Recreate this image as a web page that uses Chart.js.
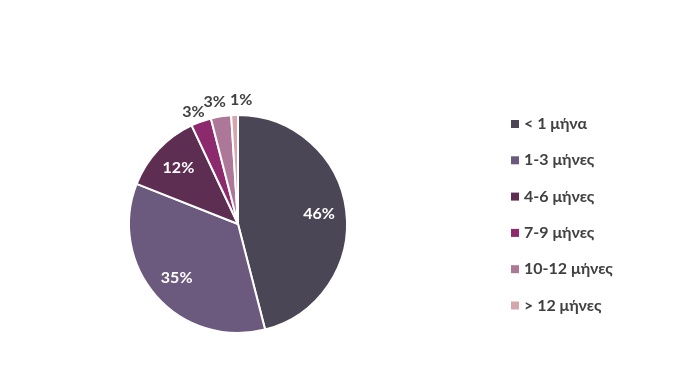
<!DOCTYPE html>
<html>
<head>
<meta charset="utf-8">
<script src="https://cdn.jsdelivr.net/npm/chart.js@4"></script>
<style>
  html, body { margin: 0; padding: 0; background: #fff; }
  #wrap { width: 684px; height: 388px; }
</style>
</head>
<body>
<div id="wrap"><canvas id="pieChart"></canvas></div>
<script>
const labels = ['< 1 μήνα', '1-3 μήνες', '4-6 μήνες', '7-9 μήνες', '10-12 μήνες', '> 12 μήνες'];
const values = [46, 35, 12, 3, 3, 1];
const colors = ['#4a4655', '#6b5a7d', '#5e2d52', '#8c2a6d', '#ad7898', '#d6a6ad'];

const FONT = 'Lato, "Open Sans", sans-serif';

// Percent labels: big slices inside in white, small ones outside in grey
const sliceLabels = {
    id: 'sliceLabels',
    afterDatasetsDraw(chart) {
        const ctx = chart.ctx;
        const meta = chart.getDatasetMeta(0);
        ctx.save();
        ctx.font = 'bold 16px ' + FONT;
        ctx.textAlign = 'center';
        ctx.textBaseline = 'middle';
        meta.data.forEach((arc, i) => {
            const v = values[i];
            const mid = (arc.startAngle + arc.endAngle) / 2;
            let r, color;
            if (v >= 10) {
                r = arc.outerRadius * 0.75;
                color = '#ffffff';
            } else {
                r = arc.outerRadius + 14;
                color = '#404040';
            }
            let x = arc.x + Math.cos(mid) * r;
            let y = arc.y + Math.sin(mid) * r;
            // nudge the small outside labels apart
            if (i === 3) { x -= 3; y += 4; }
            if (i === 4) { x -= 4; y -= 1; }
            if (i === 5) { x += 7; y -= 1; }
            ctx.fillStyle = color;
            ctx.fillText(v + '%', x, y);
        });
        ctx.restore();
    }
};

// Legend on the right, one row per category
const sideLegend = {
    id: 'sideLegend',
    afterDraw(chart) {
        const ctx = chart.ctx;
        ctx.save();
        ctx.font = 'bold 16px ' + FONT;
        ctx.textBaseline = 'middle';
        labels.forEach((lab, i) => {
            const y = 124 + i * 36.3;
            ctx.fillStyle = colors[i];
            ctx.fillRect(511, y - 4, 8, 8);
            ctx.fillStyle = '#404040';
            ctx.fillText(lab, 524, y);
        });
        ctx.restore();
    }
};

new Chart(document.getElementById('pieChart'), {
    type: 'pie',
    data: {
        labels: labels,
        datasets: [{
            data: values,
            backgroundColor: colors,
            borderColor: '#ffffff',
            borderWidth: 2
        }]
    },
    options: {
        responsive: true,
        maintainAspectRatio: false,
        animation: false,
        layout: { padding: { left: 128, right: 336, top: 114, bottom: 54 } },
        plugins: {
            legend: { display: false },
            tooltip: { enabled: false }
        }
    },
    plugins: [sliceLabels, sideLegend]
});
</script>
</body>
</html>
